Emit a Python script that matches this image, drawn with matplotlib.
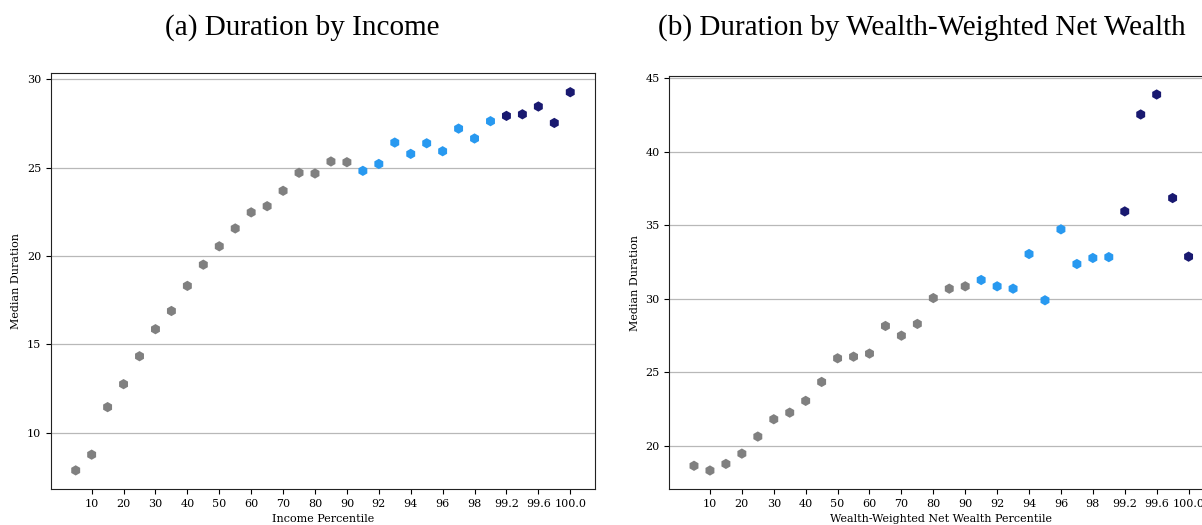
### Import necessary libraries
import numpy as np
import matplotlib
matplotlib.use('Agg')
import matplotlib.pyplot as plt

### Percentile groups (plotted at equal spacing)
percentiles = ['5', '10', '15', '20', '25', '30', '35', '40', '45', '50', '55', '60', '65', '70', '75', '80', '85', '90',
               '91', '92', '93', '94', '95', '96', '97', '98', '99',
               '99.2', '99.4', '99.6', '99.8', '100.0']
group = ['bottom'] * 18 + ['top10'] * 9 + ['top1'] * 5
tick_labels = ['10', '20', '30', '40', '50', '60', '70', '80', '90', '92', '94', '96', '98', '99.2', '99.6', '100.0']

### Median duration by income percentile
income_duration = [7.87, 8.76, 11.45, 12.75, 14.33, 15.86, 16.89, 18.31, 19.51, 20.55, 21.56, 22.47, 22.82, 23.69,
                   24.71, 24.67, 25.35, 25.31,
                   24.82, 25.21, 26.42, 25.78, 26.38, 25.93, 27.21, 26.65, 27.63,
                   27.93, 28.02, 28.46, 27.53, 29.27]

### Median duration by wealth-weighted net wealth percentile
wealth_duration = [18.63, 18.31, 18.76, 19.46, 20.62, 21.80, 22.25, 23.05, 24.34, 25.95, 26.06, 26.27, 28.15, 27.49,
                   28.29, 30.05, 30.69, 30.85,
                   31.28, 30.85, 30.69, 33.05, 29.90, 34.73, 32.37, 32.78, 32.84,
                   35.95, 42.55, 43.91, 36.86, 32.87]

colors = {'bottom': 'grey', 'top10': '#2899f0', 'top1': '#191970'}

plt.rcParams['font.family'] = 'DejaVu Serif'
plt.rcParams['font.size'] = 8

fig = plt.figure(figsize=(12.02, 5.25), dpi=100)
ax1 = fig.add_axes([0.0424, 0.068, 0.4526, 0.7924])
ax2 = fig.add_axes([0.5568, 0.068, 0.4526, 0.7878])

pos = np.arange(len(percentiles))
point_colors = [colors[g] for g in group]

for ax, values, xlabel in [(ax1, income_duration, 'Income Percentile'),
                           (ax2, wealth_duration, 'Wealth-Weighted Net Wealth Percentile')]:
    ax.scatter(pos, values, c=point_colors, marker='h', s=55, zorder=3, linewidths=0)
    ax.set_xticks(pos[1::2])
    ax.set_xticklabels(tick_labels)
    ax.grid(axis='y', color='#b8b8b8', linewidth=0.9)
    ax.set_axisbelow(True)
    ax.set_xlabel(xlabel, labelpad=3.5)
    ax.set_ylabel('Median Duration')
    for s in ax.spines.values():
        s.set_color('#222222')

ax1.set_yticks([10, 15, 20, 25, 30])
ax2.set_yticks([20, 25, 30, 35, 40, 45])

### Panel captions
fig.text(302 / 1202, 1 - 28 / 525, '(a) Duration by Income', ha='center', va='center',
         family='Liberation Serif', fontsize=21)
fig.text(921.5 / 1202, 1 - 28 / 525, '(b) Duration by Wealth-Weighted Net Wealth', ha='center', va='center',
         family='Liberation Serif', fontsize=21)

fig.savefig('out.png', dpi=100)
